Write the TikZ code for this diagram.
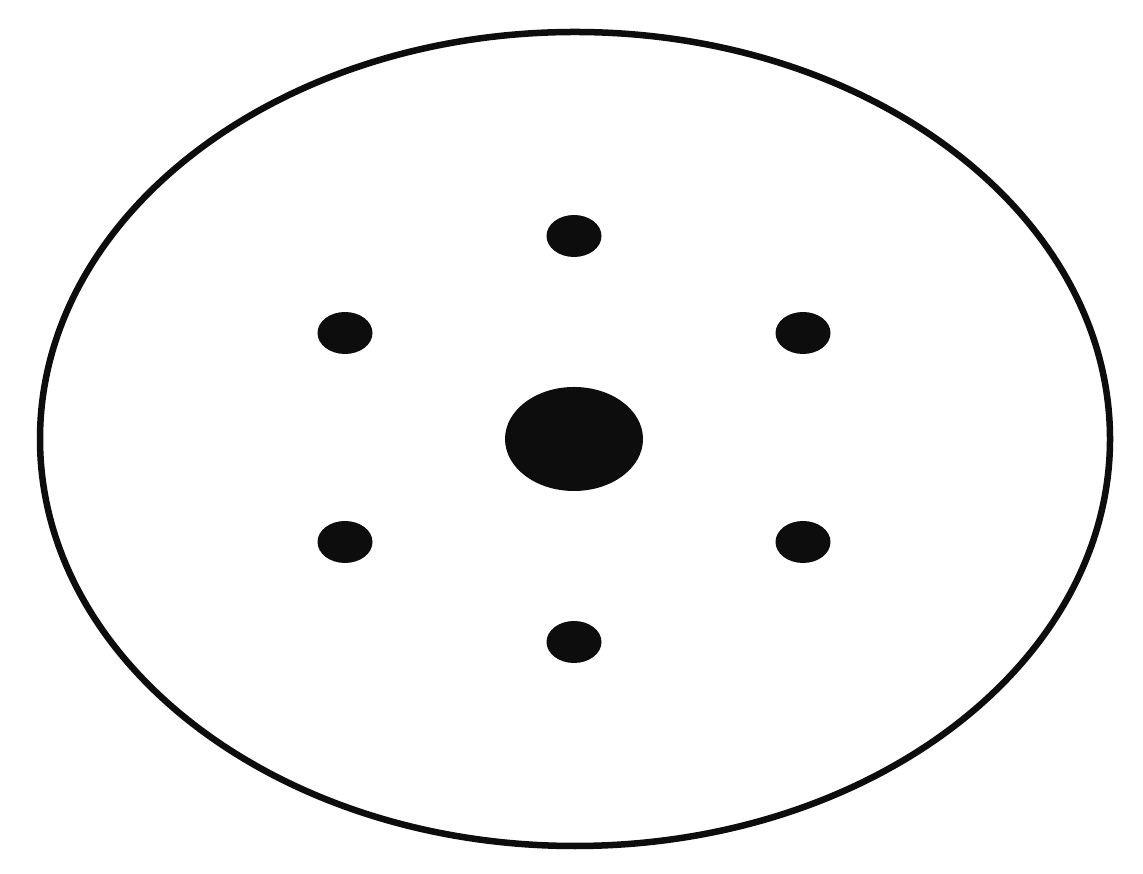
\documentclass[tikz,border=0pt]{standalone}
\begin{document}
\begin{tikzpicture}[x=0.01cm,y=-0.01cm,
  rim/.style={draw=black!95,line width=0.065cm},
  dot/.style={fill=black!95}]
\useasboundingbox (0,0) rectangle (1143,874);
\fill[white] (0,0) rectangle (1143,874);
% outer ellipse
\draw[rim] (575,439) ellipse [x radius=535, y radius=407];
% central nucleus
\fill[dot] (574,439) ellipse [x radius=69, y radius=52];
% six small dots
\fill[dot] (574,236) ellipse [x radius=27.5, y radius=21];
\fill[dot] (574,642) ellipse [x radius=27.5, y radius=21];
\fill[dot] (345,333) ellipse [x radius=27.5, y radius=21];
\fill[dot] (803,333) ellipse [x radius=27.5, y radius=21];
\fill[dot] (345,542) ellipse [x radius=27.5, y radius=21];
\fill[dot] (803,542) ellipse [x radius=27.5, y radius=21];
\end{tikzpicture}
\end{document}
